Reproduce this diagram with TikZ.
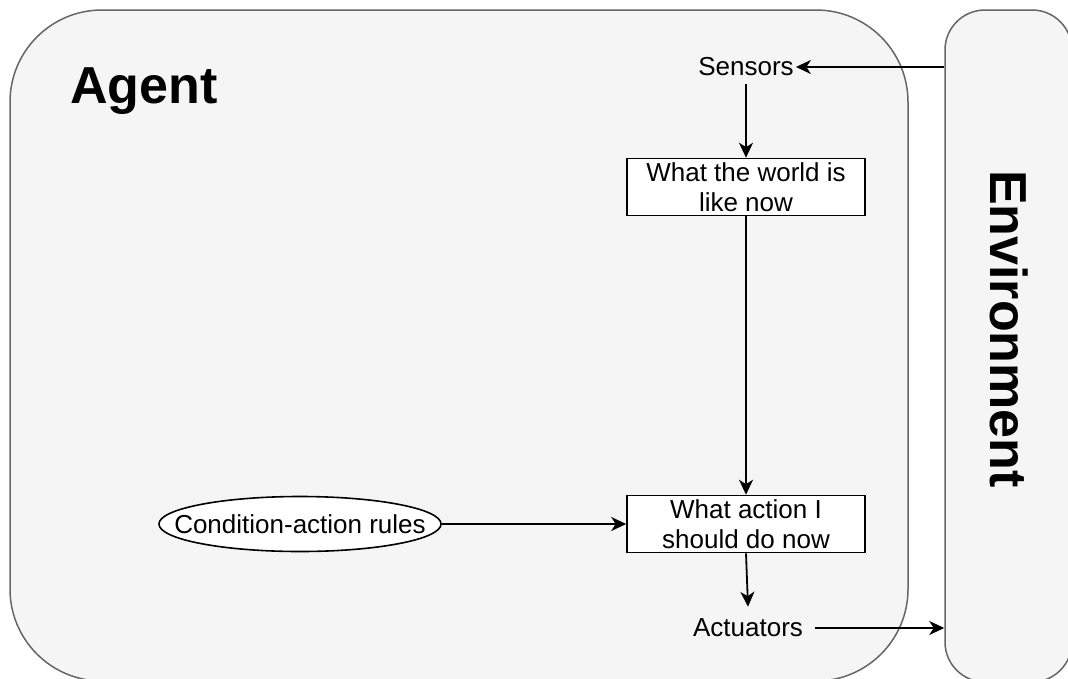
\documentclass[tikz,border=0pt]{standalone}
\usepackage{fontspec}
\setmainfont{Liberation Sans}
\usetikzlibrary{shapes.geometric,arrows.meta}

\definecolor{panelfill}{HTML}{F5F5F5}
\definecolor{panelline}{HTML}{666666}

\tikzset{
  panel/.style={draw=panelline, fill=panelfill, line width=1.5pt, inner sep=0pt},
  label/.style={font=\fontsize{26}{29.5}\selectfont, text=black},
  stepbox/.style={draw=black, fill=white, line width=1.6pt, minimum width=238pt,
                  minimum height=57pt, align=center, inner sep=0pt,
                  font=\fontsize{26}{29.5}\selectfont},
  rulebox/.style={ellipse, draw=black, fill=white, line width=1.6pt,
                  minimum width=281pt, minimum height=55pt,
                  inner xsep=-26pt, inner ysep=6pt,
                  font=\fontsize{26}{29.5}\selectfont},
  flow/.style={draw=black, line width=1.8pt,
               -{Stealth[length=15pt, width=14pt, inset=4.5pt]}},
  title/.style={font=\fontsize{52}{58}\selectfont\bfseries, text=black}
}

\begin{document}
\begin{tikzpicture}[x=1pt, y=-1pt]
  \useasboundingbox (0,0) rectangle (1068,678);
  \clip (0,0) rectangle (1068,678);

  % outer panels
  \node[panel, rounded corners=92pt, minimum width=898pt, minimum height=671pt]
    (agentbox) at (459,345.5) {};
  \node[panel, rounded corners=40pt, minimum width=127pt, minimum height=672pt]
    (envbox) at (1008.5,346) {};

  % panel titles
  \node[title, anchor=base west, inner sep=0pt] (agentlbl) at (70,103) {Agent};
  \node[title, rotate=-90, inner sep=0pt] (envlbl) at (1009,329) {Environment};

  % agent internals
  \node[label, inner xsep=2pt, inner ysep=8pt] (sensors) at (746,67) {Sensors};
  \node[stepbox] (world) at (746,187) {What the world is\\like now};
  \node[stepbox] (action) at (746,524) {What action I\\should do now};
  \node[rulebox] (rules) at (300,524) {Condition-action rules};
  \node[label, inner sep=12pt] (actuators) at (748,628) {Actuators};

  % connectors
  \draw[flow] (envbox.west |- sensors.east) -- (sensors.east);
  \draw[flow] (sensors.south) -- (world.north);
  \draw[flow] (world.south) -- (action.north);
  \draw[flow] (rules.east) -- (action.west);
  \draw[flow] (action.south) -- (actuators.north);
  \draw[flow] (actuators.east) -- (actuators.east -| envbox.west);
\end{tikzpicture}
\end{document}
